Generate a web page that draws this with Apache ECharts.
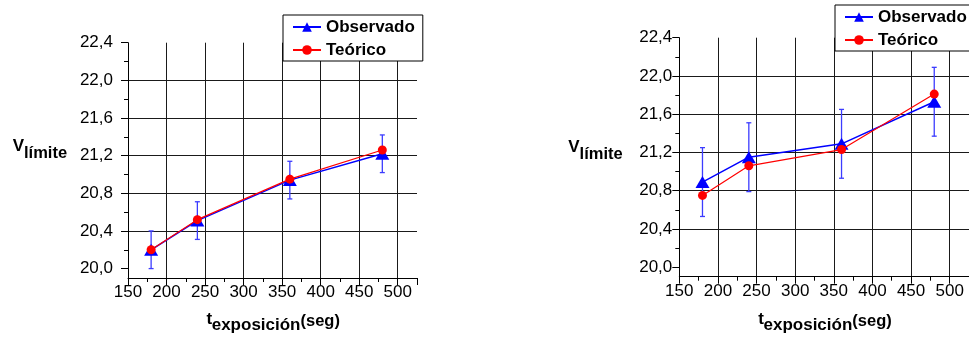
<!DOCTYPE html>
<html>
<head>
<meta charset="utf-8">
<script src="https://cdn.jsdelivr.net/npm/echarts@6/dist/echarts.min.js"></script>
<style>
html,body{margin:0;padding:0;background:#fff;}
#chart{width:969px;height:338px;}
</style>
</head>
<body>
<div id="chart"></div>
<script>
// ---- data ----
const tExp = [180, 240, 360, 480];
const obsLeft = [20.20, 20.51, 20.94, 21.22];
const errLeft = [0.20, 0.20, 0.20, 0.20];
const teoLeft = [20.20, 20.52, 20.95, 21.26];
const obsRight = [20.89, 21.15, 21.29, 21.73];
const errRight = [0.36, 0.36, 0.36, 0.36];
const teoRight = [20.75, 21.06, 21.23, 21.81];
const yMajor = [20.0, 20.4, 20.8, 21.2, 21.6, 22.0, 22.4];
const yMinor = [20.2, 20.6, 21.0, 21.4, 21.8, 22.2];
const xMajor = [150, 200, 250, 300, 350, 400, 450, 500];
const xMajorTicks = [150, 200, 250, 300, 350, 400, 450, 500, 525];
const xMinor = [175, 225, 275, 325, 375, 425, 475];
const legendNames = ['Observado', 'Teórico'];

const FONT = 'Liberation Sans, Arial, sans-serif';
const chart = echarts.init(document.getElementById('chart'));

function yAxes(g, margin) {
  return [{
    gridIndex: g, type: 'value', position: 'left', min: 19.9, max: 22.4,
    minInterval: 0.4, maxInterval: 0.4,
    axisLine: {show: true, lineStyle: {color: '#000', width: 1}},
    axisTick: {show: true, length: 7, customValues: yMajor, lineStyle: {color: '#000'}},
    axisLabel: {customValues: yMajor, margin: margin, fontSize: 17, color: '#000', fontFamily: FONT,
      formatter: v => v.toFixed(1).replace('.', ',')},
    splitLine: {show: true, showMinLine: false, showMaxLine: false, lineStyle: {color: '#1a1a1a', width: 1}}
  }, {
    gridIndex: g, type: 'value', position: 'left', min: 19.9, max: 22.4,
    axisLine: {show: false},
    axisTick: {show: true, length: 4, customValues: yMinor, lineStyle: {color: '#000'}},
    axisLabel: {show: false},
    splitLine: {show: false}
  }];
}
function xAxes(g) {
  return [{
    gridIndex: g, type: 'value', position: 'bottom', min: 150, max: 525, interval: 50,
    axisLine: {show: true, onZero: false, lineStyle: {color: '#000', width: 1}},
    axisTick: {show: true, length: 7, customValues: xMajorTicks, lineStyle: {color: '#000'}},
    axisLabel: {customValues: xMajor, margin: 6, fontSize: 17, color: '#000', fontFamily: FONT},
    splitLine: {show: true, showMinLine: false, showMaxLine: false, lineStyle: {color: '#1a1a1a', width: 1}}
  }, {
    gridIndex: g, type: 'value', position: 'bottom', min: 150, max: 525,
    axisLine: {show: false, onZero: false},
    axisTick: {show: true, length: 4, customValues: xMinor, lineStyle: {color: '#000'}},
    axisLabel: {show: false},
    splitLine: {show: false}
  }];
}
function errSeries(xi, yi, obs, err) {
  return {
    type: 'custom', xAxisIndex: xi, yAxisIndex: yi, silent: true, z: 1,
    data: tExp.map((x, i) => [x, obs[i] - err[i], obs[i] + err[i]]),
    renderItem: function (params, api) {
      const x = api.value(0);
      const lo = api.coord([x, api.value(1)]);
      const hi = api.coord([x, api.value(2)]);
      const hw = 2.5;
      const st = {stroke: '#3c3cff', lineWidth: 1.3};
      return {type: 'group', children: [
        {type: 'line', shape: {x1: lo[0], y1: lo[1], x2: hi[0], y2: hi[1]}, style: st},
        {type: 'line', shape: {x1: lo[0] - hw, y1: lo[1], x2: lo[0] + hw, y2: lo[1]}, style: st},
        {type: 'line', shape: {x1: hi[0] - hw, y1: hi[1], x2: hi[0] + hw, y2: hi[1]}, style: st}
      ]};
    }
  };
}
function lineSeries(name, xi, yi, vals, color, symbol, size, width, z) {
  return {
    type: 'line', name: name, xAxisIndex: xi, yAxisIndex: yi, z: z,
    data: tExp.map((x, i) => [x, vals[i]]),
    symbol: symbol, symbolSize: size, showSymbol: true,
    lineStyle: {color: color, width: width},
    itemStyle: {color: color},
    emphasis: {disabled: true}, silent: true
  };
}
function legend(left, top) {
  return {
    left: left, top: top, orient: 'vertical', data: legendNames,
    itemWidth: 28, itemHeight: 12, itemGap: 5, padding: [3, 8, 2, 9],
    borderColor: '#000', borderWidth: 1, backgroundColor: '#fff', borderRadius: 0,
    selectedMode: false,
    textStyle: {fontFamily: FONT, fontSize: 17, fontWeight: 'bold', color: '#000', lineHeight: 18}
  };
}
function txt(x, y, s, font) {
  return {type: 'text', x: x, y: y, silent: true,
    style: {text: s, font: font, fill: '#000', align: 'left', verticalAlign: 'middle'}};
}
function names(dx) {
  return [
    txt(12.7 + dx.v, 146 + dx.vy, 'V', 'bold 17px ' + FONT),
    txt(24 + dx.v, 153.6 + dx.vy, 'límite', 'bold 16.5px ' + FONT),
    txt(206.5 + dx.t, 319.5, 't', 'bold 17px ' + FONT),
    txt(211.7 + dx.t, 325.8, 'exposición', 'bold 17px ' + FONT),
    txt(300.5 + dx.t, 321, '(seg)', 'bold 16.5px ' + FONT)
  ];
}

const option = {
  animation: false,
  backgroundColor: '#fff',
  grid: [
    {left: 128, top: 42.7, right: 552, bottom: 60},
    {left: 679.3, top: 37.7, right: -4, bottom: 61.3}
  ],
  xAxis: [...xAxes(0), ...xAxes(1)],
  yAxis: [...yAxes(0, 15), ...yAxes(1, 7)],
  legend: [legend(283, 15), legend(835, 5)],
  graphic: [...names({v: 0, vy: 0, t: 0}), ...names({v: 555.6, vy: 1, t: 551.8})],
  series: [
    errSeries(0, 0, obsLeft, errLeft),
    lineSeries('Observado', 0, 0, obsLeft, '#0000ff', 'triangle', [14, 12], 1.5, 3),
    lineSeries('Teórico', 0, 0, teoLeft, '#ff0000', 'circle', 9, 1.2, 4),
    errSeries(2, 2, obsRight, errRight),
    lineSeries('Observado', 2, 2, obsRight, '#0000ff', 'triangle', [14, 12], 1.5, 3),
    lineSeries('Teórico', 2, 2, teoRight, '#ff0000', 'circle', 9, 1.2, 4)
  ]
};
chart.setOption(option);
</script>
</body>
</html>
